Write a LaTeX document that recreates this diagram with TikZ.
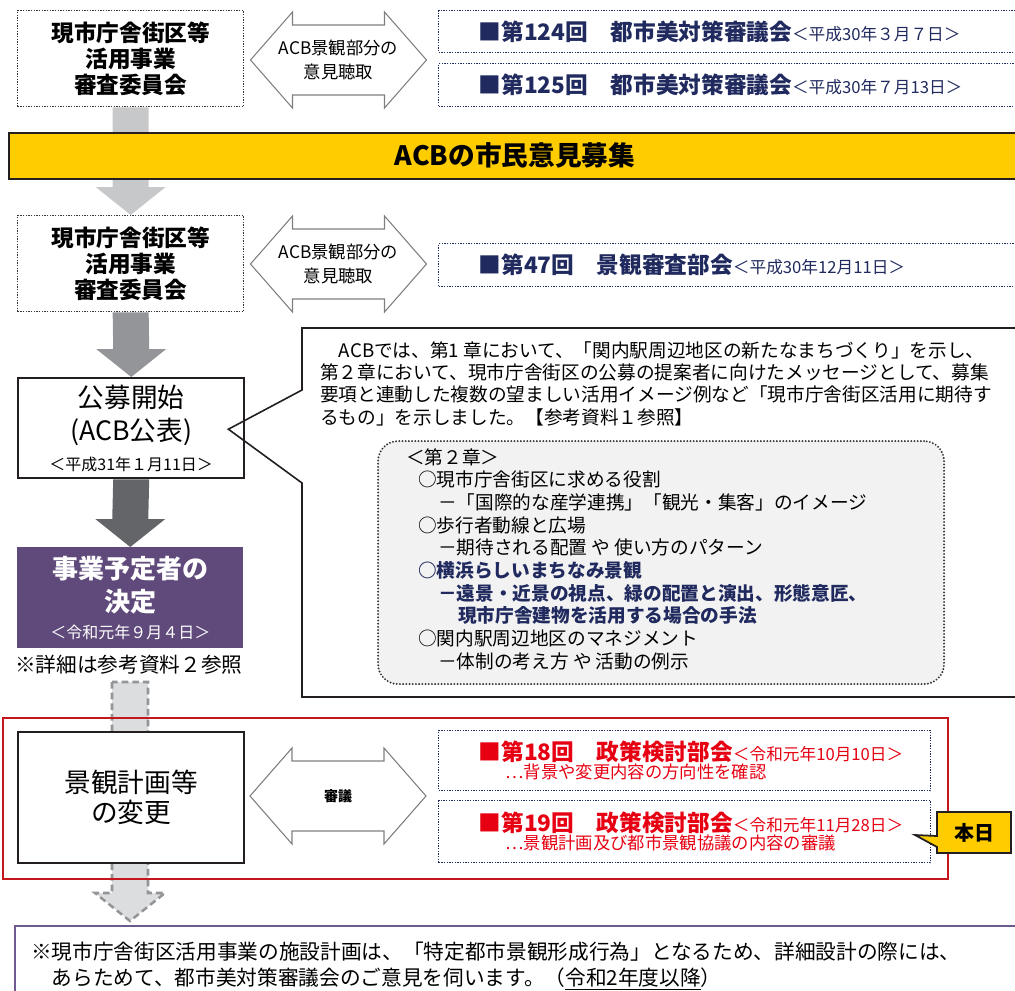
\documentclass[tikz,border=0pt]{standalone}
\usepackage{fontspec}
\setmainfont{Noto Sans CJK JP}
\usetikzlibrary{calc}
\definecolor{navy}{HTML}{202A5E}
\definecolor{ink}{HTML}{231F20}
\definecolor{redline}{HTML}{C4161C}
\definecolor{redtext}{HTML}{E60012}
\definecolor{gold}{HTML}{FFCC00}
\definecolor{plum}{HTML}{5F4A7B}
\definecolor{lilac}{HTML}{6E5A8E}
\definecolor{arrowlight}{HTML}{C7C8CA}
\definecolor{arrowmid}{HTML}{939598}
\definecolor{arrowdark}{HTML}{646568}
\definecolor{arrowpale}{HTML}{DCDDDE}
\definecolor{panel}{HTML}{F2F2F2}
\definecolor{dotgray}{HTML}{333333}
\definecolor{outline}{HTML}{7F7F7F}
\newcommand{\evtitle}{\bfseries\fontsize{17}{20}\selectfont}
\newcommand{\evdate}{\mdseries\fontsize{12.5}{15}\selectfont}
\newcommand{\evsub}{\mdseries\fontsize{13}{17.25}\selectfont}
% block arrow from #2 down to the tip #3
\newcommand{\blockarrow}[3][]{%
  \path[#1] ($(#2)+(-18,0)$) -- ($(#3)+(-18,-28)$) -- ($(#3)+(-35,-28)$) -- (#3)
    -- ($(#3)+(35,-28)$) -- ($(#3)+(18,-28)$) -- ($(#2)+(18,0)$) -- cycle;}
% two-headed outline arrow round a label
\newcommand{\hearing}[1]{%
  \draw[hear] ($(#1)+(-88,0)$) -- ($(#1)+(-46,-48)$) -- ($(#1)+(-46,-35)$)
    -- ($(#1)+(46,-35)$) -- ($(#1)+(46,-48)$) -- ($(#1)+(88,0)$)
    -- ($(#1)+(46,48)$) -- ($(#1)+(46,35)$) -- ($(#1)+(-46,35)$)
    -- ($(#1)+(-46,48)$) -- cycle;}
\begin{document}
\begin{tikzpicture}[x=0.75pt,y=-0.75pt,
  every node/.style={inner sep=0pt},
  dotbox/.style={draw=dotgray,line width=1pt,dash pattern=on 1pt off 1pt,
    anchor=north west,minimum width=169.5pt,minimum height=72pt,align=center,
    font=\bfseries\fontsize{17}{19.5}\selectfont},
  evbox/.style={draw=navy,line width=1pt,dash pattern=on 1pt off 1pt,
    anchor=north west,inner xsep=30pt,align=left,text=navy},
  mainbox/.style={draw=ink,line width=1.8pt,fill=white,anchor=north west,
    minimum width=169.5pt,align=center},
  hear/.style={draw=outline,line width=0.8pt,line join=miter},
  hearlbl/.style={align=center,font=\fontsize{13}{18}\selectfont}]
\useasboundingbox (0,0) rectangle (1015,990);

% review committee, first round
\node[dotbox] (rev1) at (17,10) {現市庁舎街区等\\活用事業\\審査委員会};
\node[hearlbl] (hear1) at (338.5,60) {ACB景観部分の\\意見聴取};
\hearing{hear1.center}
\node[evbox,minimum width=436.5pt,minimum height=31.5pt,text width=376.5pt] (cm124) at (438,10)
  {\evtitle ■第124回　都市美対策審議会\evdate＜平成30年３月７日＞};
\node[evbox,minimum width=436.5pt,minimum height=32.25pt,text width=376.5pt] (cm125) at (438,63)
  {\evtitle ■第125回　都市美対策審議会\evdate＜平成30年７月13日＞};

% second round
\node[dotbox] (rev2) at (17,215) {現市庁舎街区等\\活用事業\\審査委員会};
\blockarrow[fill=arrowlight]{rev1.south}{rev2.north}
\node[anchor=north west,fill=gold,draw=ink,line width=1.3pt,minimum width=759pt,
  minimum height=34.5pt,font=\bfseries\fontsize{20}{24}\selectfont] (bar) at (8,132) {ACBの市民意見募集};
\node[hearlbl] (hear2) at (338.5,264) {ACB景観部分の\\意見聴取};
\hearing{hear2.center}
\node[evbox,minimum width=436.5pt,minimum height=32.25pt,text width=376.5pt] (ss47) at (438,243)
  {\evtitle ■第47回　景観審査部会\evdate＜平成30年12月11日＞};

% call for proposals and decision
\node[mainbox,minimum height=75pt,font=\fontsize{20}{25}\selectfont] (pub) at (17,377)
  {公募開始\\(ACB公表)\\[-3pt]{\fontsize{12}{15}\selectfont ＜平成31年１月11日＞}};
\node[fill=plum,anchor=north west,minimum width=169.5pt,minimum height=75.75pt,align=center,
  text=white,font=\bfseries\fontsize{19.5}{24.75}\selectfont] (dec) at (17,547)
  {事業予定者の\\決定\\[-4.75pt]{\mdseries\fontsize{12}{15}\selectfont ＜令和元年９月４日＞}};
\node[font=\fontsize{15.5}{18}\selectfont] (ref2) at (129,665) {※詳細は参考資料２参照};
\blockarrow[fill=arrowmid]{rev2.south}{pub.north}
\blockarrow[fill=arrowdark]{pub.south}{dec.north}

% callout with the guideline contents
\coordinate (tip) at ($(pub.east)+(-17,1)$);
\draw[line width=1.2pt,draw=ink] (1020,328) -- (302,328) -- (302,390) -- (tip)
  -- (302,483) -- (302,697) -- (1020,697);
\node[anchor=north west,align=left,font=\fontsize{14}{16.75}\selectfont] (msg) at (320,341)
  {　ACBでは、第1 章において、「関内駅周辺地区の新たなまちづくり」を示し、\\
   第２章において、現市庁舎街区の公募の提案者に向けたメッセージとして、募集\\
   要項と連動した複数の望ましい活用イメージ例など「現市庁舎街区活用に期待す\\
   るもの」を示しました。【参考資料１参照】};
\node[draw=dotgray,fill=panel,line width=1.6pt,dash pattern=on 0pt off 2.4pt,line cap=round,
  rounded corners=15pt,anchor=north west,minimum width=424.5pt,minimum height=182.25pt] (ch2) at (377,440) {};
\node[anchor=north west,align=left,font=\fontsize{14}{17}\selectfont] (ch2txt) at (406,448)
  {＜第２章＞\\
   \hspace*{9pt}○現市庁舎街区に求める役割\\
   \hspace*{24pt}－「国際的な産学連携」「観光・集客」のイメージ\\
   \hspace*{9pt}○歩行者動線と広場\\
   \hspace*{24pt}－期待される配置 や 使い方のパターン\\
   \hspace*{9pt}{\bfseries\color{navy}○横浜らしいまちなみ景観}\\
   \hspace*{24pt}{\bfseries\color{navy}－遠景・近景の視点、緑の配置と演出、形態意匠、}\\
   \hspace*{39pt}{\bfseries\color{navy}現市庁舎建物を活用する場合の手法}\\
   \hspace*{9pt}○関内駅周辺地区のマネジメント\\
   \hspace*{24pt}－体制の考え方 や 活動の例示};

% landscape plan change, under review
\coordinate (chgtop) at (130,682);
\coordinate (chgtip) at (130,921);
\blockarrow[fill=arrowpale,draw=arrowmid,line width=1.9pt,dash pattern=on 5pt off 3pt]{chgtop}{chgtip}
\node[draw=redline,line width=1.8pt,anchor=north west,minimum width=708.75pt,
  minimum height=120.75pt] (review) at (2,717) {};
\node[mainbox,minimum height=98.25pt,font=\fontsize{20}{22.5}\selectfont] (chg) at (17,731) {景観計画等\\の変更};
\node[font=\bfseries\fontsize{10.5}{12}\selectfont] (delib) at (338,796) {審議};
\hearing{delib.center}
\node[evbox,minimum width=369pt,minimum height=45pt,text width=309pt,text=redtext] (pc18) at (438,730)
  {\evtitle ■第18回　政策検討部会\evdate＜令和元年10月10日＞\\
   \hspace*{20pt}\evsub ⋯背景や変更内容の方向性を確認};
\node[evbox,minimum width=369pt,minimum height=46.5pt,text width=309pt,text=redtext] (pc19) at (438,800)
  {\evtitle ■第19回　政策検討部会\evdate＜令和元年11月28日＞\\
   \hspace*{20pt}\evsub ⋯景観計画及び都市景観協議の内容の審議};
\coordinate (todayc) at (974,832.5);
\filldraw[fill=gold,draw=ink,line width=1.3pt] ($(todayc)+(-37,-20.5)$) -- ($(todayc)+(37,-20.5)$)
  -- ($(todayc)+(37,20.5)$) -- ($(todayc)+(-37,20.5)$) -- ($(todayc)+(-37,14.5)$)
  -- ($(todayc)+(-59,2.5)$) -- ($(todayc)+(-37,3.5)$) -- cycle;
\node[font=\bfseries\fontsize{15}{18}\selectfont] (today) at (todayc) {本日};

% note at the bottom
\node[draw=lilac,line width=1.8pt,anchor=north west,text width=733.5pt,inner xsep=12pt,inner ysep=6pt,
  minimum height=60pt,align=left,font=\fontsize{15.5}{19.5}\selectfont] (note) at (14,925)
  {※現市庁舎街区活用事業の施設計画は、「特定都市景観形成行為」となるため、詳細設計の際には、\\
   　あらためて、都市美対策審議会のご意見を伺います。（\underline{令和2年度以降}）\\[12pt]};
\end{tikzpicture}
\end{document}
